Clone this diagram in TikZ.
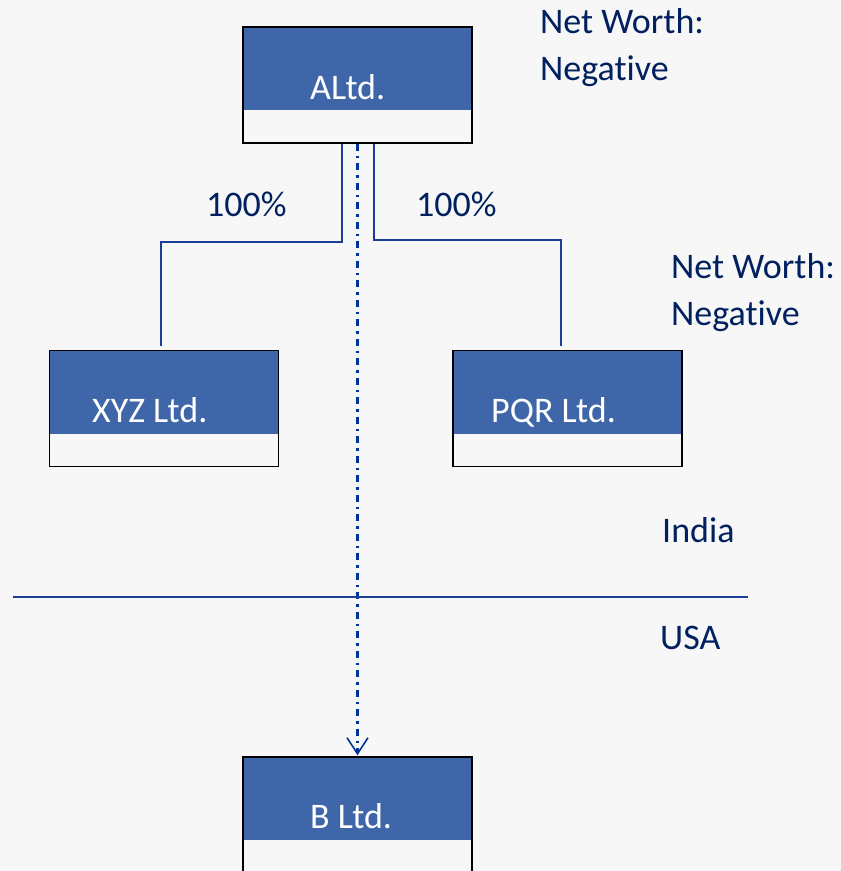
\documentclass[tikz,border=0pt]{standalone}
\usepackage{fontspec}
\setmainfont{Carlito}[Ligatures=NoCommon]
\usetikzlibrary{arrows.meta}
\definecolor{bgpaper}{HTML}{F7F7F7}
\definecolor{boxblue}{HTML}{3F66A8}
\definecolor{navytext}{HTML}{002060}
\definecolor{linkblue}{HTML}{1A3F96}
\definecolor{transferblue}{HTML}{003399}
\tikzset{
  entity/.style={draw=black, line width=1.6pt, fill=bgpaper, inner sep=0pt,
    minimum width=229pt, minimum height=116pt,
    path picture={\fill[boxblue] (path picture bounding box.north west)
      rectangle ([yshift=33pt]path picture bounding box.south east);}},
  entitytext/.style={anchor=base west, inner sep=0pt, text=white,
    font=\fontsize{36pt}{44pt}\selectfont},
  note/.style={anchor=base west, inner sep=0pt, text=navytext,
    font=\fontsize{36pt}{47pt}\selectfont},
  link/.style={draw=linkblue, line width=2pt},
  transfer/.style={draw=transferblue, line width=2.4pt,
    dash pattern=on 7pt off 5pt on 2.5pt off 5pt,
    -{Straight Barb[length=16pt,width=21pt,line width=1.6pt]}},
}
\begin{document}
\begin{tikzpicture}[x=1pt,y=1pt]
  \fill[bgpaper] (0,0) rectangle (841,-871);
  \useasboundingbox (0,0) rectangle (841,-871);

  % company boxes
  \node[entity] (a)   at (357.5,-85)  {};
  \node[entity] (xyz) at (164,-408.5) {};
  \node[entity] (pqr) at (567.5,-408.5) {};
  \begin{scope}
    \clip (0,0) rectangle (841,-871);
    \node[entity] (b) at (357.5,-815) {};
  \end{scope}

  \node[entitytext] (atext)   at (310,-99)  {ALtd.};
  \node[entitytext] (xyztext) at (92,-422)  {XYZ Ltd.};
  \node[entitytext] (pqrtext) at (491,-422) {PQR Ltd.};
  \node[entitytext] (btext)   at (310,-828) {B Ltd.};

  % shareholdings
  \draw[link] ([xshift=-15.5pt]a.south) |- (161,-242) coordinate (lbend)
    -- ([xshift=-3pt,yshift=4pt]xyz.north);
  \draw[link] ([xshift=16.5pt]a.south) |- (561,-240) coordinate (rbend)
    -- ([xshift=-6.5pt,yshift=4pt]pqr.north);
  \node[note] (ls) at (206,-216) {100\%};
  \node[note] (rs) at (416,-216) {100\%};

  % cross-border transfer
  \draw[transfer] (a.south) -- ([yshift=1pt]b.north);

  % border between countries
  \coordinate (bl) at (13,-596.5);
  \coordinate (br) at (748,-596.5);
  \draw[link] (bl) -- (br);
  \node[note] (india) at (662,-542) {India};
  \node[note] (usa)   at (660,-649) {USA};

  % net worth notes (anchored on the baseline of the last line)
  \node[note, align=left] (nwa) at (540,-80)
    {Net Worth:\\Negative};
  \node[note, align=left] (nwp) at (671,-325)
    {Net Worth:\\Negative};
\end{tikzpicture}
\end{document}
